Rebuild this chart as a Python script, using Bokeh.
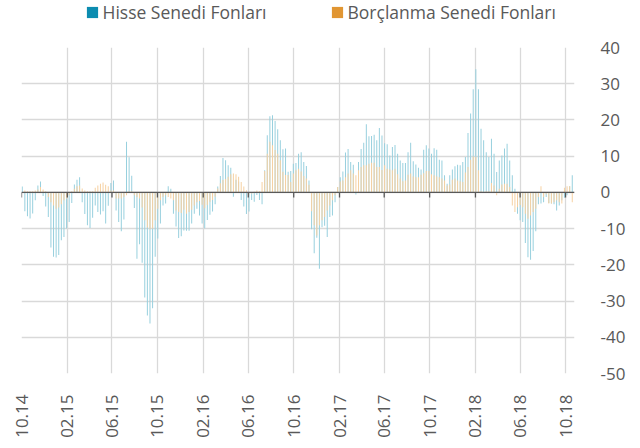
import pandas as pd
from datetime import datetime
from bokeh.plotting import figure
from bokeh.layouts import column
from bokeh.models import (ColumnDataSource, Range1d, FixedTicker, DatetimeTickFormatter,
                          Span, Legend, LegendItem)
from bokeh.embed import file_html
from bokeh.resources import INLINE

# ---------------- data ----------------
start_date = "2014-10-03"
hisse = [1.6, -5.2, -6.6, -7.2, -5.8, -2.2, 1.9, 3.0, -1.0, -3.9,
         -6.8, -15.2, -17.8, -18.0, -17.3, -13.2, -12.3, -10.0, -8.2, -2.9,
         2.2, 3.5, 4.2, -2.7, -6.0, -9.1, -9.8, -7.0, -3.6, -5.4,
         -6.1, -5.2, -8.6, -3.7, 2.6, 3.3, -5.0, -8.2, -10.7, -7.5,
         14.0, 9.7, 4.6, -4.3, -18.3, -14.3, -19.4, -29.0, -34.0, -36.2,
         -32.0, -17.8, -12.7, -8.6, -3.6, -3.1, 1.7, 1.0, -5.9, -9.4,
         -12.6, -12.1, -10.5, -10.6, -10.6, -8.6, -5.9, -4.5, -6.4, -8.6,
         -9.9, -7.6, -6.2, -5.3, -3.3, 1.6, 4.5, 9.5, 8.9, 7.5,
         6.8, -1.2, 3.5, 3.0, -2.1, -3.9, -6.0, -5.3, -2.1, -2.6,
         -0.7, -2.1, -3.3, 6.1, 15.8, 21.0, 21.3, 19.7, 17.4, 14.4,
         11.9, 12.1, 5.7, 5.9, 7.9, 8.1, 10.7, 11.1, 8.4, 7.3,
         3.3, -10.2, -16.8, -12.5, -21.1, -9.6, -9.2, -12.3, -6.8, -6.4,
         -2.7, 1.5, 4.2, 5.8, 11.0, 12.0, 8.4, 7.6, -0.6, 8.4,
         12.0, 13.7, 18.8, 15.5, 15.6, 15.9, 14.4, 17.8, 15.7, 13.6,
         13.3, 10.2, 12.5, 13.1, 10.7, 8.8, 8.1, 8.1, 11.1, 13.7,
         8.6, 7.7, 6.8, 6.3, 11.8, 13.0, 12.1, 10.7, 12.2, 11.8,
         9.0, 8.8, 4.7, 2.4, 4.7, 6.3, 7.2, 7.6, 7.5, 8.4,
         9.8, 16.4, 21.8, 28.5, 34.0, 28.5, 17.6, 14.4, 11.1, 9.8,
         14.8, 10.7, 5.6, 8.8, 10.2, 12.1, 13.4, 8.8, 4.7, 1.0,
         -5.9, -7.7, -8.2, -14.0, -17.9, -18.6, -16.2, -10.7, -3.3, -3.1,
         -2.7, -1.3, -2.9, -3.1, -3.3, -5.0, -3.6, -2.2, -1.5, -0.8,
         1.7, 4.7]
borclanma = [0.0, 0.5, 0.3, 0.3, 0.3, 0.5, 0.8, 1.5, 0.8, 0.3,
             -1.3, -2.7, -3.6, -4.5, -4.2, -3.3, -2.2, -1.7, -0.8, 0.3,
             1.0, 1.7, 1.9, 1.1, 0.5, 0.3, 0.3, 0.3, 1.3, 1.9,
             2.4, 2.7, 2.1, 1.7, 0.5, 0.5, -1.7, -1.7, -1.7, -1.3,
             -0.8, 0.3, 0.3, -0.8, -1.3, -1.7, -4.2, -7.7, -9.7, -10.1,
             -10.0, -7.7, -4.5, -2.2, -1.3, -0.8, -1.3, -1.7, -2.2, -5.0,
             -5.4, -5.7, -4.8, -5.9, -5.4, -4.8, -3.6, -2.7, -2.4, -3.4,
             -4.4, -3.5, -2.6, -2.1, -1.2, 1.1, 2.5, 3.4, 3.7, 4.3,
             5.0, 5.2, 5.0, 4.3, 2.9, 1.6, 0.6, -0.5, -0.3, 0.2,
             0.5, 0.3, 2.9, 5.9, 10.7, 14.0, 13.0, 11.7, 10.7, 8.9,
             5.7, 4.8, 4.8, 2.9, 5.2, 6.1, 6.5, 5.8, 4.5, 3.8,
             2.1, -5.2, -9.1, -11.9, -9.1, -7.7, -6.8, -5.0, -3.6, -2.2,
             -0.8, 1.5, 3.0, 3.3, 4.2, 5.2, 6.1, 5.2, 4.7, 6.1,
             7.0, 7.5, 7.5, 7.9, 8.2, 8.2, 7.0, 7.0, 6.2, 7.5,
             6.5, 6.3, 6.1, 6.5, 5.0, 3.8, 3.1, 3.3, 4.9, 5.2,
             4.4, 4.2, 4.2, 4.9, 5.3, 5.9, 5.9, 5.0, 4.7, 4.4,
             4.2, 3.8, 3.3, 1.9, 2.2, 3.5, 3.8, 3.3, 3.1, 2.9,
             5.5, 7.0, 9.0, 9.9, 9.8, 6.1, 0.3, 0.2, 0.3, 0.3,
             2.6, 1.9, -0.8, 1.0, 2.2, 2.4, 2.4, 1.5, -3.6, -5.4,
             -4.1, -3.5, -4.1, -5.9, -7.3, -6.4, -5.4, -4.5, -1.3, 1.7,
             -1.3, -0.5, -3.1, -3.1, -2.7, -2.2, -2.7, -3.1, 1.3, 1.7,
             1.7, -2.7]
tick_labels = ["10.14", "02.15", "06.15", "10.15", "02.16", "06.16", "10.16",
               "02.17", "06.17", "10.17", "02.18", "06.18", "10.18"]
y_ticks = [-50, -40, -30, -20, -10, 0, 10, 20, 30, 40]
series_names = ["Hisse Senedi Fonları", "Borçlanma Senedi Fonları"]
series_colors = ["#0C8CB0", "#E19632"]

dates = pd.date_range(start_date, periods=len(hisse), freq="7D")
tick_dates = [pd.to_datetime("01." + t, format="%d.%m.%y") for t in tick_labels]
tick_ms = [d.timestamp() * 1000 for d in tick_dates]

src = ColumnDataSource(data=dict(x=dates, h=hisse, b=borclanma))

GREY = "#595959"
FONT = "Open Sans"

# ---------------- legend strip ----------------
lf = figure(width=624, height=35, output_backend="svg", toolbar_location=None,
            x_range=Range1d(0, 1), y_range=Range1d(0, 1),
            min_border_left=0, min_border_right=0, min_border_top=0, min_border_bottom=0)
lf.axis.visible = False
lf.grid.visible = False
lf.outline_line_color = None
# legend proxies (kept outside the visible range)
lb = lf.vbar(x=[-5], top=[-4], bottom=[-5], width=1, fill_color=series_colors[0], line_color=None)
lo = lf.vbar(x=[-5], top=[-4], bottom=[-5], width=1, fill_color=series_colors[1], line_color=None)
legend = Legend(items=[LegendItem(label=series_names[0], renderers=[lb]),
                       LegendItem(label=series_names[1], renderers=[lo])],
                orientation="horizontal", location=(63.5, 11),
                glyph_width=14, glyph_height=14, label_standoff=4, spacing=63,
                padding=0, margin=0, border_line_alpha=0, background_fill_alpha=0,
                label_text_font=FONT, label_text_font_size="17.5px", label_text_color=GREY,
                label_height=22)
lf.add_layout(legend, "center")

# ---------------- main chart ----------------
p = figure(frame_width=553, frame_height=326, x_axis_type="datetime", y_axis_location="right",
           output_backend="svg", toolbar_location=None,
           x_range=Range1d(datetime(2014, 10, 1), datetime(2018, 10, 25)),
           y_range=Range1d(-50, 40),
           min_border_left=21, min_border_right=50, min_border_top=12, min_border_bottom=40)
p.outline_line_color = None
p.background_fill_color = "white"

day = 86400000
bw = 2.7 * day
p.vbar(x="x", top="h", bottom=0, width=bw, source=src, fill_color="#98D0DE", line_color=None)
p.vbar(x="x", top="b", bottom=0, width=bw, source=src, fill_color="#F6D1A2", line_color=None)

# zero axis line with tick marks
p.add_layout(Span(location=0, dimension="width", line_color=GREY, line_width=1.3))
p.segment(x0=tick_dates, y0=[0] * len(tick_dates), x1=tick_dates, y1=[-1.4] * len(tick_dates),
          line_color=GREY, line_width=1.3)

# axes
xt = FixedTicker(ticks=tick_ms)
p.xaxis.ticker = xt
fmt = "%m.%y"
p.xaxis.formatter = DatetimeTickFormatter(microseconds=fmt, milliseconds=fmt, seconds=fmt,
                                          minsec=fmt, minutes=fmt, hourmin=fmt, hours=fmt,
                                          days=fmt, months=fmt, years=fmt)
p.xaxis.major_label_orientation = 1.5708
p.xaxis.axis_line_color = None
p.xaxis.major_tick_line_color = None
p.xaxis.minor_tick_line_color = None
p.xaxis.major_label_standoff = 15
p.xaxis.major_label_text_font = FONT
p.xaxis.major_label_text_font_size = "17px"
p.xaxis.major_label_text_color = GREY

p.yaxis.ticker = FixedTicker(ticks=y_ticks)
p.yaxis.major_label_overrides = {t: str(t) for t in y_ticks}
p.yaxis.axis_line_color = None
p.yaxis.major_tick_line_color = None
p.yaxis.minor_tick_line_color = None
p.yaxis.major_label_standoff = 20
p.yaxis.major_label_text_font = FONT
p.yaxis.major_label_text_font_size = "17px"
p.yaxis.major_label_text_color = GREY

p.xgrid.ticker = xt
p.xgrid.grid_line_color = "#D9D9D9"
p.xgrid.grid_line_width = 1.3
p.ygrid.grid_line_color = "#D9D9D9"
p.ygrid.grid_line_width = 1.3

layout = column(lf, p, spacing=0)
open("out.html", "w").write(file_html(layout, INLINE))
